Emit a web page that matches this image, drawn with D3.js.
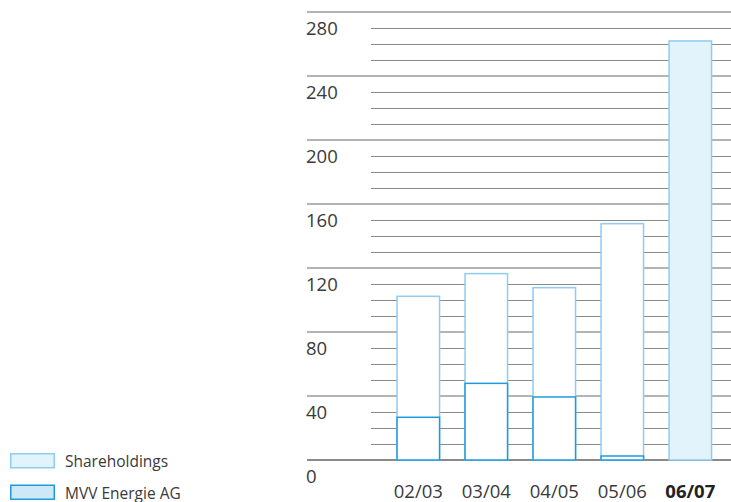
<!DOCTYPE html>
<html>
<head>
<meta charset="utf-8">
<script src="https://cdn.jsdelivr.net/npm/d3@7"></script>
<style>
  html, body { margin: 0; padding: 0; background: #fff; }
  svg { display: block; }
  text { font-family: "Open Sans", "Noto Sans", sans-serif; fill: #3a3a3a; }
</style>
</head>
<body>
<svg id="chart" width="731" height="502"></svg>
<script>
const categories = ["02/03", "03/04", "04/05", "05/06", "06/07"];
const mvvValues = [26.7, 47.9, 39.4, 2.5, 0];
const shareholdingValues = [75.6, 68.6, 68.3, 145.2, 261.9];
const majorTicks = [0, 40, 80, 120, 160, 200, 240, 280];
const minorTicks = d3.range(0, 281, 10).filter(v => v % 40 !== 0);
const legendLabels = ["Shareholdings", "MVV Energie AG"];
const highlightCategory = "06/07";

const svg = d3.select("#chart");

const y = d3.scaleLinear().domain([0, 280]).range([460, 12]);
const x = d3.scaleBand().domain(categories)
  .range([396.3, 396.3 + 68 * 5 - 24])
  .paddingInner(24 / 68).paddingOuter(0);

const grid = svg.append("g");
grid.selectAll("line.minor").data(minorTicks).join("line")
  .attr("class", "minor")
  .attr("x1", 371).attr("x2", 731)
  .attr("y1", d => Math.round(y(d)) + 0.5).attr("y2", d => Math.round(y(d)) + 0.5)
  .attr("stroke", "#8a8a8a").attr("stroke-width", 1);
grid.selectAll("line.major").data(majorTicks).join("line")
  .attr("class", "major")
  .attr("x1", 307).attr("x2", 731)
  .attr("y1", d => Math.round(y(d))).attr("y2", d => Math.round(y(d)))
  .attr("stroke", d => d === 0 ? "#8a8a8a" : "#b4b4b4").attr("stroke-width", 2);

svg.append("g").selectAll("text").data(majorTicks).join("text")
  .attr("x", 306)
  .attr("y", d => y(d) + 23)
  .attr("font-size", 18.5)
  .text(d => d);

const totals = categories.map((c, i) => mvvValues[i] + shareholdingValues[i]);

svg.append("g").selectAll("rect").data(categories).join("rect")
  .attr("x", d => x(d) + 0.75)
  .attr("width", x.bandwidth() - 1.5)
  .attr("y", (d, i) => y(totals[i]))
  .attr("height", (d, i) => y(0) - y(totals[i]))
  .attr("fill", d => d === highlightCategory ? "#e3f3fb" : "#ffffff")
  .attr("stroke", "#8dcdef")
  .attr("stroke-width", 1.5);

svg.append("g").selectAll("rect").data(categories.filter((c, i) => mvvValues[i] > 0)).join("rect")
  .attr("x", d => x(d) + 0.75)
  .attr("width", x.bandwidth() - 1.5)
  .attr("y", d => y(mvvValues[categories.indexOf(d)]))
  .attr("height", d => y(0) - y(mvvValues[categories.indexOf(d)]))
  .attr("fill", "#ffffff")
  .attr("stroke", "#1f9ade")
  .attr("stroke-width", 1.5);

svg.append("g").selectAll("text").data(categories).join("text")
  .attr("x", d => x(d) + x.bandwidth() / 2)
  .attr("y", 498)
  .attr("text-anchor", "middle")
  .attr("font-size", 18.5)
  .attr("font-weight", d => d === highlightCategory ? "bold" : "normal")
  .style("fill", d => d === highlightCategory ? "#222" : "#3a3a3a")
  .text(d => d);

const legendStyles = [
  { fill: "#e3f3fb", stroke: "#8dcdef" },
  { fill: "#cde9f7", stroke: "#1f9ade" }
];
const lg = svg.append("g").selectAll("g").data(legendLabels).join("g")
  .attr("transform", (d, i) => `translate(0, ${453 + i * 31.5})`);
lg.append("rect")
  .attr("x", 10.75).attr("y", 0.75).attr("width", 43.5).attr("height", 14)
  .attr("fill", (d, i) => legendStyles[i].fill)
  .attr("stroke", (d, i) => legendStyles[i].stroke)
  .attr("stroke-width", 1.5);
lg.append("text")
  .attr("x", 65).attr("y", 14)
  .attr("font-size", 15.5)
  .text(d => d);
</script>
</body>
</html>
